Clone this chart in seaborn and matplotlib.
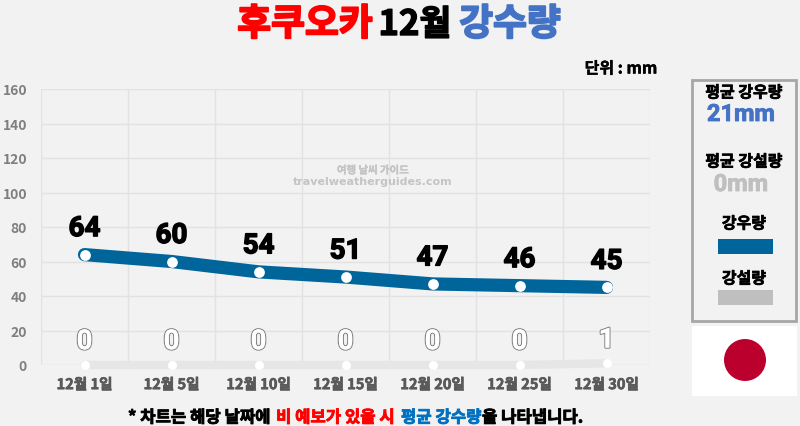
import pandas as pd
import numpy as np
import matplotlib.pyplot as plt
import matplotlib.patheffects as pe
from matplotlib.patches import Rectangle, Ellipse
import seaborn as sns

days = ["12월 1일", "12월 5일", "12월 10일", "12월 15일", "12월 20일", "12월 25일", "12월 30일"]
rain = [64, 60, 54, 51, 47, 46, 45]
snow = [0, 0, 0, 0, 0, 0, 1]
y_ticks = [0, 20, 40, 60, 80, 100, 120, 140, 160]

BG = "#f2f2f2"
BLUE = "#00659b"
TITLE_BLUE = "#4472c4"

sns.set_theme(style="whitegrid")
plt.rcParams['font.family'] = ['Noto Sans CJK KR', 'DejaVu Sans']

df = pd.DataFrame({"day": days, "rain": rain, "snow": snow})

fig = plt.figure(figsize=(8, 4.27), dpi=100, facecolor=BG)
ax = fig.add_axes([41 / 800, 1 - 366 / 427, 609 / 800, 276 / 427], facecolor=BG)

# snow first so the rain line stays on top
sns.lineplot(data=df, x="day", y="snow", ax=ax, sort=False, color="#e6e6e6", lw=6,
             solid_capstyle="round", clip_on=False)
sns.lineplot(data=df, x="day", y="rain", ax=ax, sort=False, color=BLUE, lw=9.5,
             solid_capstyle="round", solid_joinstyle="round", clip_on=False)
sns.scatterplot(data=df, x="day", y="snow", ax=ax, color="white", s=42, linewidth=0, zorder=5, clip_on=False)
sns.scatterplot(data=df, x="day", y="rain", ax=ax, color="white", s=60, linewidth=0, zorder=5, clip_on=False)

ax.set_xlim(-0.5, 6.5)
ax.set_ylim(0, 160)
ax.set_xlabel("")
ax.set_ylabel("")
ax.set_yticks(y_ticks)
ax.set_xticks(range(len(days)))
ax.set_xticklabels(days)
ax.set_xticks(np.arange(-0.5, 7), minor=True)
ax.grid(False, which="major", axis="x")
ax.grid(True, which="minor", axis="x", color="#e2e2e2", lw=1)
ax.grid(True, which="major", axis="y", color="#e2e2e2", lw=1)
for s in ax.spines.values():
    s.set_visible(False)
ax.tick_params(axis="x", which="both", length=0, pad=8)
ax.tick_params(axis="y", length=0, pad=10)
for t in ax.get_xticklabels():
    t.set_fontsize(10.5)
    t.set_fontweight("bold")
    t.set_color("#595959")
    t.set_path_effects([pe.withStroke(linewidth=0.5, foreground="#595959")])
for t in ax.get_yticklabels():
    t.set_fontsize(10)
    t.set_fontweight("bold")
    t.set_color("#7f7f7f")

# value labels
for i, v in enumerate(rain):
    ax.annotate(str(v), (i, v), xytext=(0, 9), textcoords="offset points", ha="center", va="bottom",
                fontsize=20, fontweight="bold", color="black", family="Roboto",
                path_effects=[pe.withStroke(linewidth=1, foreground="black")])
for i, v in enumerate(snow):
    ax.annotate(str(v), (i, v), xytext=(0, 7), textcoords="offset points", ha="center", va="bottom",
                fontsize=20, fontweight="bold", color="white", family="Roboto",
                path_effects=[pe.withStroke(linewidth=1.6, foreground="#7f7f7f"), pe.Normal()])


def put(x, y, s, size, color="black", ha="center", stroke=0.0, **kw):
    fx = []
    if stroke:
        fx = [pe.withStroke(linewidth=stroke, foreground=color)]
    return fig.text(x / 800, 1 - (y + 2.5) / 427, s, fontsize=size, color=color, ha=ha, va="center",
                    fontweight="bold", path_effects=fx, **kw)


# title
put(305, 23, "후쿠오카", 26.5, "#ff0000", stroke=1.4)
put(415, 23, "12월", 25, "black", stroke=1.0)
put(510, 23, "강수량", 26.5, TITLE_BLUE, stroke=1.4)

put(621, 67, "단위 : mm", 11.5, stroke=0.3)

# watermark
put(373, 169, "여행 날씨 가이드", 7.5, "#c4c4c4", stroke=0.2)
put(373, 180, "travelweatherguides.com", 8, "#c4c4c4", family="DejaVu Sans")

# footer
put(128, 416, "* 차트는 해당 날짜에", 12, ha="left", stroke=0.6)
put(276, 416, "비 예보가 있을 시", 12, "#ff0000", ha="left", stroke=0.6)
put(401, 416, "평균 강수량", 12, "#0070c0", ha="left", stroke=0.6)
put(482, 416, "을 나타냅니다.", 12, ha="left", stroke=0.6)

# side panel
fig.add_artist(Rectangle((692 / 800, 1 - 322 / 427), 104 / 800, 241 / 427, transform=fig.transFigure,
                         fc=BG, ec="#a6a6a6", lw=2))
put(744, 91, "평균 강우량", 11.5, stroke=0.5)
put(741, 113, "21mm", 17, TITLE_BLUE, family="Roboto", stroke=0.6)
put(744, 160, "평균 강설량", 11.5, stroke=0.5)
put(741, 183, "0mm", 17, "#bfbfbf", family="Roboto", stroke=0.6)
put(744, 222, "강우량", 11.5, stroke=0.5)
fig.add_artist(Rectangle((718 / 800, 1 - 255 / 427), 55 / 800, 15 / 427, transform=fig.transFigure,
                         fc=BLUE, ec="none"))
put(744, 277, "강설량", 11.5, stroke=0.5)
fig.add_artist(Rectangle((718 / 800, 1 - 306 / 427), 55 / 800, 15 / 427, transform=fig.transFigure,
                         fc="#bfbfbf", ec="none"))

# flag
fig.add_artist(Rectangle((692 / 800, 1 - 397 / 427), 105 / 800, 70 / 427, transform=fig.transFigure,
                         fc="white", ec="none"))
fig.add_artist(Ellipse((745 / 800, 1 - 361 / 427), 42 / 800, 42 / 427, transform=fig.transFigure,
                       fc="#bc002d", ec="none"))

fig.savefig("out.png", dpi=100, facecolor=BG)
